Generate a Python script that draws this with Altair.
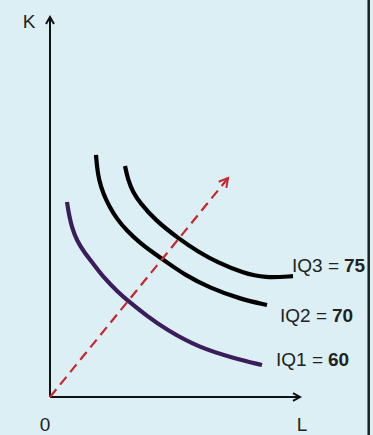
import math

import altair as alt
import pandas as pd

# Isoquants: points (L, K) along each curve
iq1_L = [0.68, 0.76, 0.88, 1.08, 1.36, 1.68, 2.16, 2.72, 3.12, 3.88, 4.68, 6.00, 7.32, 8.48]
iq1_K = [5.13, 4.79, 4.45, 4.11, 3.82, 3.55, 3.13, 2.76, 2.53, 2.13, 1.76, 1.29, 1.03, 0.84]

iq2_L = [1.84, 1.88, 1.96, 2.12, 2.36, 2.68, 3.08, 3.56, 4.08, 4.60, 5.40, 6.40, 7.60, 8.68]
iq2_K = [6.37, 6.05, 5.71, 5.37, 5.03, 4.68, 4.37, 4.08, 3.82, 3.58, 3.21, 2.87, 2.58, 2.42]

iq3_L = [3.00, 3.12, 3.32, 3.60, 4.20, 5.12, 6.00, 6.68, 7.72, 8.60, 9.72]
iq3_K = [6.08, 5.71, 5.39, 5.11, 4.66, 4.18, 3.79, 3.55, 3.26, 3.13, 3.18]

curve_names = ["IQ1", "IQ2", "IQ3"]
output_levels = [60, 70, 75]
curve_colors = ["#3b1d5c", "#000000", "#000000"]

# Expansion path from the origin
ray_L = [0, 7.12]
ray_K = [0, 5.76]

# Axis extents
L_max = 10
K_max = 10

# Plot geometry
W, H = 373, 435
L_dom = [-2.0, 12.92]
K_dom = [-1.0, 10.447]
px_L = W / (L_dom[1] - L_dom[0])
px_K = H / (K_dom[1] - K_dom[0])

x_sc = alt.Scale(domain=L_dom, nice=False, zero=False)
y_sc = alt.Scale(domain=K_dom, nice=False, zero=False)

FONT = "'Liberation Sans Narrow', 'Liberation Sans', Arial, sans-serif"
TEXT_COLOR = "#222222"
CHEVRON = "M -0.57 1 L 0 0 L 0.57 1"

# ---- curves table
rows = []
for name, Ls, Ks in zip(curve_names, [iq1_L, iq2_L, iq3_L], [iq1_K, iq2_K, iq3_K]):
    for i, (l, k) in enumerate(zip(Ls, Ks)):
        rows.append({"curve": name, "i": i, "L": l, "K": k})
curves_df = pd.DataFrame(rows)

curves = alt.Chart(curves_df).mark_line(
    strokeWidth=4.2, interpolate="basis", strokeCap="butt"
).encode(
    x=alt.X("L:Q", scale=x_sc, axis=None),
    y=alt.Y("K:Q", scale=y_sc, axis=None),
    color=alt.Color("curve:N", scale=alt.Scale(domain=curve_names, range=curve_colors), legend=None),
    detail="curve:N",
    order="i:Q",
)

# ---- axes
axes_df = pd.DataFrame({
    "L": [0, 0], "K": [0, 0],
    "L2": [0, L_max], "K2": [K_max, 0],
})
axes = alt.Chart(axes_df).mark_rule(strokeWidth=2, color="#111111").encode(
    x=alt.X("L:Q", scale=x_sc, axis=None),
    y=alt.Y("K:Q", scale=y_sc, axis=None),
    x2="L2:Q",
    y2="K2:Q",
)

heads_df = pd.DataFrame({"L": [0, L_max], "K": [K_max, 0], "ang": [0, 90]})
axis_heads = alt.Chart(heads_df).mark_point(
    shape=CHEVRON, filled=False, size=196, strokeWidth=2, color="#111111", opacity=1
).encode(
    x=alt.X("L:Q", scale=x_sc, axis=None),
    y=alt.Y("K:Q", scale=y_sc, axis=None),
    angle=alt.Angle("ang:Q", scale=None),
)

# ---- expansion path (dashed ray with arrowhead)
ray_df = pd.DataFrame({"L": ray_L, "K": ray_K, "i": [0, 1]})
ray = alt.Chart(ray_df).mark_line(
    strokeWidth=2.2, strokeDash=[10, 6], color="#c8262c"
).encode(
    x=alt.X("L:Q", scale=x_sc, axis=None),
    y=alt.Y("K:Q", scale=y_sc, axis=None),
    order="i:Q",
)

ray_angle = math.degrees(math.atan2((ray_L[1] - ray_L[0]) * px_L, (ray_K[1] - ray_K[0]) * px_K))
tip_df = pd.DataFrame({"L": [ray_L[1]], "K": [ray_K[1]], "ang": [ray_angle]})
ray_head = alt.Chart(tip_df).mark_point(
    shape=CHEVRON, filled=False, size=300, strokeWidth=2, color="#c8262c", opacity=1
).encode(
    x=alt.X("L:Q", scale=x_sc, axis=None),
    y=alt.Y("K:Q", scale=y_sc, axis=None),
    angle=alt.Angle("ang:Q", scale=None),
)

# ---- axis letters
def axis_text(txt, l, k, dx, dy):
    d = pd.DataFrame({"L": [l], "K": [k], "t": [txt]})
    return alt.Chart(d).mark_text(
        font="'Liberation Sans', Arial, sans-serif", fontSize=19, color=TEXT_COLOR,
        align="center", baseline="alphabetic", dx=dx, dy=dy,
    ).encode(
        x=alt.X("L:Q", scale=x_sc, axis=None),
        y=alt.Y("K:Q", scale=y_sc, axis=None),
        text="t:N",
    )

k_label = axis_text("K", 0, K_max, -21, 11)
o_label = axis_text("0", 0, 0, -5, 34)
l_label = axis_text("L", L_max, 0, 2, 34)

# ---- isoquant labels placed beside each curve's end
ends = curves_df.sort_values("i").groupby("curve").tail(1).set_index("curve")
offsets = {"IQ1": (63, 1), "IQ2": (62, 17), "IQ3": (48, -4)}

label_layers = []
for name, level in zip(curve_names, output_levels):
    dx, dy = offsets[name]
    d = pd.DataFrame({
        "L": [ends.loc[name, "L"]], "K": [ends.loc[name, "K"]],
        "name": [f"{name} ="], "level": [str(level)],
    })
    base = alt.Chart(d).encode(
        x=alt.X("L:Q", scale=x_sc, axis=None),
        y=alt.Y("K:Q", scale=y_sc, axis=None),
    )
    label_layers.append(base.mark_text(
        font=FONT, fontSize=19, color=TEXT_COLOR, align="right",
        baseline="alphabetic", dx=dx - 2, dy=dy,
    ).encode(text="name:N"))
    label_layers.append(base.mark_text(
        font=FONT, fontSize=19, fontWeight="bold", color=TEXT_COLOR, align="left",
        baseline="alphabetic", dx=dx + 3, dy=dy,
    ).encode(text="level:N"))

# ---- right frame edge
frame = alt.Chart(pd.DataFrame({"v": [0]})).mark_rule(strokeWidth=2.5, color="#1e1e1e").encode(
    x=alt.value(368.7), y=alt.value(0), y2=alt.value(H)
)

chart = alt.layer(
    axes, axis_heads, curves, ray, ray_head,
    k_label, o_label, l_label, *label_layers, frame,
).properties(
    width=W, height=H, padding=0, autosize="none", background="#dbeff5",
).configure_view(stroke=None)

chart.save("out.html", embed_options={"renderer": "svg", "actions": False})
